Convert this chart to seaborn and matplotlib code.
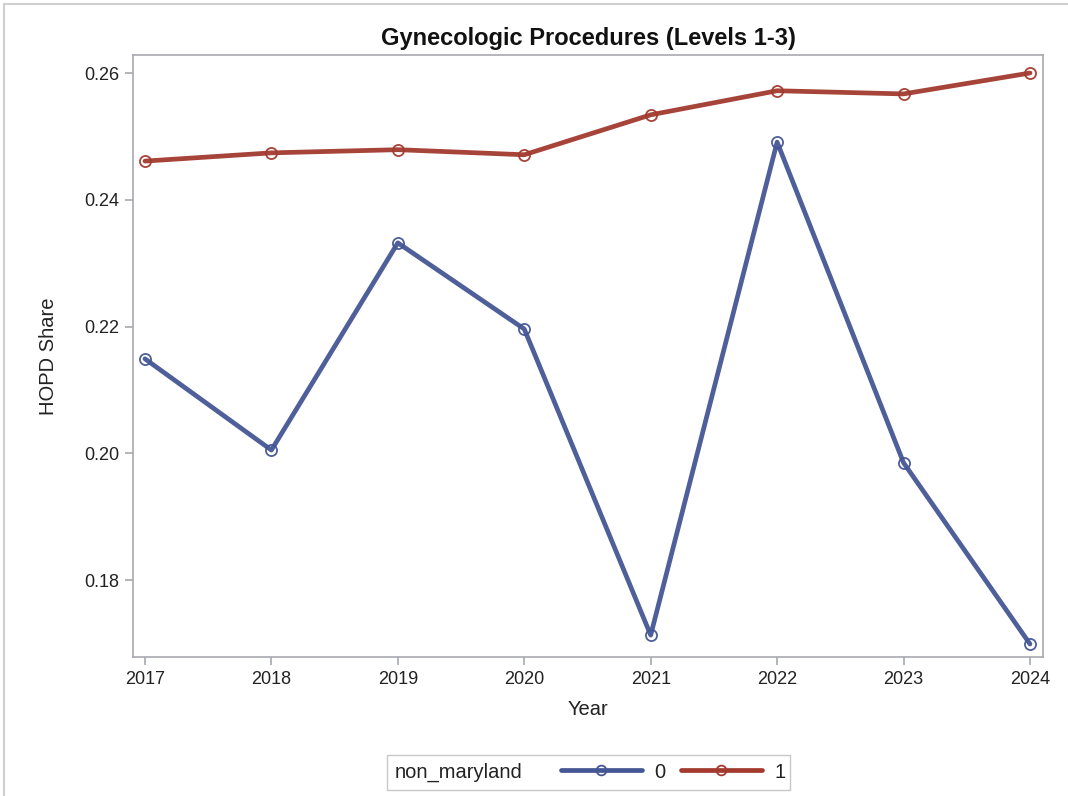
import matplotlib
matplotlib.use("Agg")
import matplotlib.pyplot as plt
import seaborn as sns
import pandas as pd
from matplotlib.lines import Line2D
from matplotlib.patches import Rectangle

years = [2017, 2018, 2019, 2020, 2021, 2022, 2023, 2024]
share_0 = [0.2149, 0.2005, 0.2332, 0.2196, 0.1713, 0.2491, 0.1985, 0.1699]
share_1 = [0.2461, 0.2474, 0.2479, 0.2471, 0.2534, 0.2572, 0.2567, 0.2600]
groups = ["0", "1"]
colors = {"0": "#445694", "1": "#A23A2E"}
y_ticks = [0.18, 0.20, 0.22, 0.24, 0.26]

df = pd.DataFrame({
    "Year": years * 2,
    "HOPD Share": share_0 + share_1,
    "non_maryland": [groups[0]] * len(years) + [groups[1]] * len(years),
})

sns.set_theme(style="white")
plt.rcParams["font.family"] = ["Liberation Sans", "DejaVu Sans"]

fig = plt.figure(figsize=(10.68, 7.96), dpi=100)
ax = fig.add_axes([0.1245, 0.1746, 0.8521, 0.7563])

sns.lineplot(data=df, x="Year", y="HOPD Share", hue="non_maryland",
             palette=colors, marker="o", markersize=8, markerfacecolor="none",
             markeredgewidth=1.3, linewidth=3.4, ax=ax, legend=False)
for ln in ax.lines:
    c = ln.get_color()
    ln.set_markeredgecolor(c)
    ln.set_alpha(0.95)

ax.set_xlim(2016.905, 2024.103)
ax.set_ylim(0.16785, 0.26284)
ax.set_xticks(years)
ax.set_xticklabels([str(y) for y in years])
ax.set_yticks(y_ticks)
ax.set_yticklabels([f"{v:.2f}" for v in y_ticks])

spine_c = "#a8a8b0"
for s in ax.spines.values():
    s.set_visible(True)
    s.set_color(spine_c)
    s.set_linewidth(1.2)
ax.tick_params(axis="both", which="major", direction="out", length=6, width=1.2,
               color=spine_c, labelsize=13, labelcolor="#222222", pad=4,
               bottom=True, left=True)

ax.set_xlabel("Year", fontsize=14.5, color="#222222", labelpad=9)
ax.set_ylabel("HOPD Share", fontsize=14.5, color="#222222", labelpad=19)
ax.set_title("Gynecologic Procedures (Levels 1-3)", fontsize=17, fontweight="bold",
             color="#111111", pad=7)

# legend box
fig.patches.append(Rectangle((387 / 1068, 1 - 790 / 796), (790 - 387) / 1068, 35 / 796,
                             transform=fig.transFigure, fill=False,
                             edgecolor="#c8c8c8", linewidth=1.0))
fig.text(395 / 1068, 1 - 772 / 796, "non_maryland", fontsize=14.5, color="#222222",
         va="center", ha="left")
handles = [Line2D([0], [0], color=colors[g], linewidth=3.4, marker="o", markersize=7,
                  markerfacecolor="none", markeredgecolor=colors[g], markeredgewidth=1.3)
           for g in groups]
fig.legend(handles, groups, loc="center left", bbox_to_anchor=(551 / 1068, 1 - 772 / 796),
           ncol=2, frameon=False, fontsize=14.5, handlelength=4.0, columnspacing=0.75,
           handletextpad=0.65, borderpad=0, labelcolor="#222222")

# outer figure border (top and left)
fig.add_artist(Line2D([4 / 1068, 1], [1 - 4 / 796, 1 - 4 / 796], transform=fig.transFigure,
                      color="#cfcfcf", linewidth=1.5))
fig.add_artist(Line2D([4 / 1068, 4 / 1068], [0, 1 - 4 / 796], transform=fig.transFigure,
                      color="#cfcfcf", linewidth=1.5))

fig.savefig("out.png", dpi=100)
